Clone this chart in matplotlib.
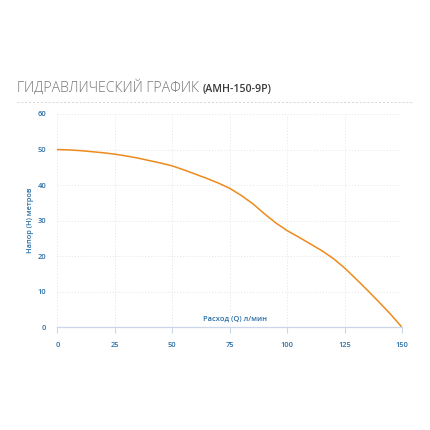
import numpy as np
import matplotlib
matplotlib.use('Agg')
import matplotlib.pyplot as plt
from matplotlib.lines import Line2D

plt.rcParams['font.family'] = ['Open Sans', 'DejaVu Sans']

# Данные кривой (расход л/мин -> напор м)
rashod = [0, 5, 10, 15, 20, 25, 30, 35, 40, 45, 50, 55, 60, 65, 70, 75,
          80, 85, 90, 95, 100, 105, 110, 115, 120, 125, 130, 135, 140, 145, 150]
napor = [50, 49.9, 49.7, 49.4, 49.1, 48.7, 48.2, 47.6, 46.9, 46.2, 45.4, 44.3,
         43.1, 41.9, 40.6, 39.1, 37.1, 34.8, 32.0, 29.4, 27.2, 25.4, 23.5, 21.6,
         19.4, 16.7, 13.6, 10.4, 7.1, 3.7, 0]

x_ticks = [0, 25, 50, 75, 100, 125, 150]
y_ticks = [0, 10, 20, 30, 40, 50, 60]

blue = '#2b6fa6'
grid_col = '#e3e3e3'
axis_col = '#ccd6eb'

fig = plt.figure(figsize=(4.3, 4.3), dpi=100)
ax = fig.add_axes([0.1333, 0.2388, 0.8016, 0.4961])

ax.plot(rashod, napor, color='#ec8a1c', lw=1.1, solid_joinstyle='round')

ax.set_xlim(0, 150)
ax.set_ylim(0, 60)
ax.set_xticks(x_ticks)
ax.set_yticks(y_ticks)
ax.tick_params(axis='x', length=4, width=0.8, color=axis_col, labelsize=5.4, labelcolor=blue, pad=6.5)
ax.tick_params(axis='y', length=0, labelsize=5.4, labelcolor=blue, pad=8)
for lab in ax.get_xticklabels() + ax.get_yticklabels():
    lab.set_fontweight('semibold')
ax.grid(True, color=grid_col, ls=(0, (1, 2)), lw=0.7)
ax.set_axisbelow(True)

for s in ['top', 'right', 'left']:
    ax.spines[s].set_visible(False)
ax.spines['bottom'].set_color(axis_col)
ax.spines['bottom'].set_linewidth(0.9)

ax.text(0.515, 0.022, 'Расход (Q) л/мин', transform=ax.transAxes, ha='center', va='bottom',
        fontsize=5.4, color=blue, fontweight='semibold')
fig.text(0.072, 0.488, 'Напор (H) метров', rotation=90, ha='center', va='center',
         fontsize=5.3, color=blue, fontweight='semibold')

# Заголовок
t = fig.text(0.040, 0.786, 'ГИДРАВЛИЧЕСКИЙ ГРАФИК ', fontsize=10.2, color='#777777',
             fontweight='light', ha='left', va='baseline')
fig.canvas.draw()
bb = t.get_window_extent()
fig.text(bb.x1 / fig.bbox.width, 0.786, '(АМН-150-9Р)', fontsize=7.7, color='#3a3a3a',
         fontweight='semibold', ha='left', va='baseline')

fig.add_artist(Line2D([0.040, 0.960], [0.763, 0.763], transform=fig.transFigure,
                      color='#d6d6d6', lw=0.7, ls=(0, (2, 2))))

fig.savefig('out.png', dpi=100, facecolor='white')
